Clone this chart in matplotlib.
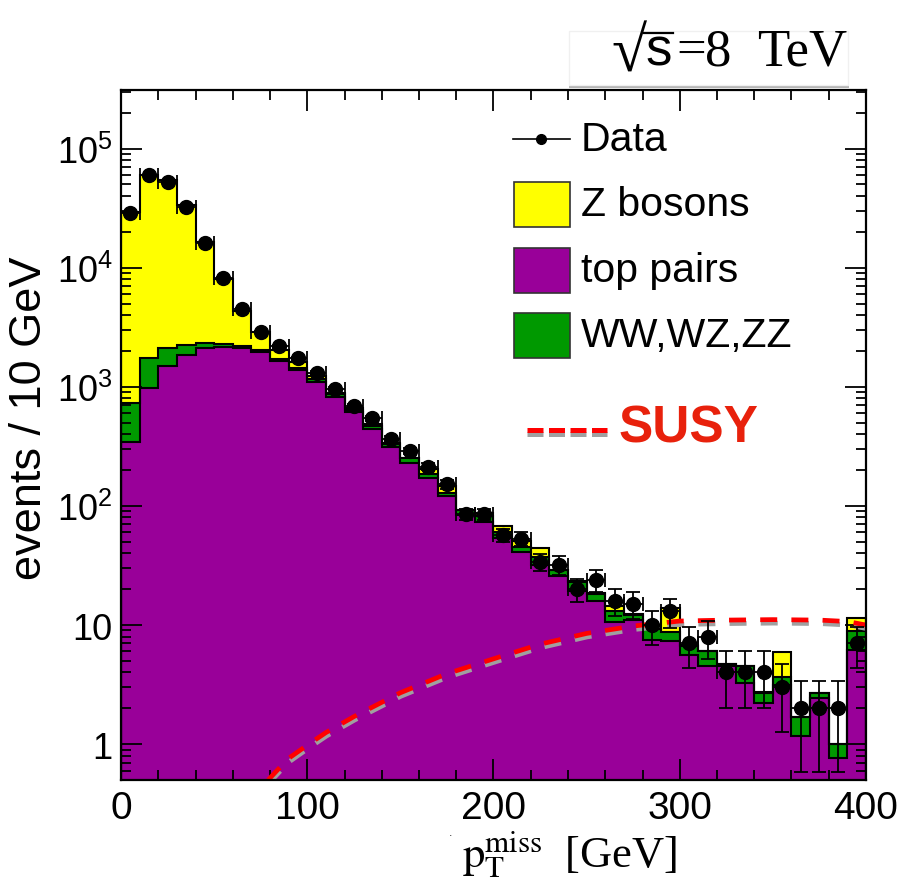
import numpy as np
import matplotlib
matplotlib.use("Agg")
import matplotlib.pyplot as plt
from matplotlib import transforms
from matplotlib.patches import Rectangle
from matplotlib.lines import Line2D
from matplotlib.ticker import FixedLocator, LogLocator, MultipleLocator, NullFormatter

plt.rcParams["font.family"] = ["Liberation Sans", "DejaVu Sans"]
plt.rcParams["mathtext.default"] = "regular"

# ---- binning: 10 GeV bins from 0 to 400 GeV
bin_edges = np.arange(0, 410, 10)

# ---- simulated backgrounds, events per bin
top_pairs = np.array([
    347, 975, 1480, 1855, 2100, 2150, 2100, 1940, 1650, 1380,
    1095, 823, 612, 446, 310, 229, 171, 120, 84, 72.6,
    53.6, 41.2, 32, 25.6, 19.4, 16.0, 10.7, 11.0, 7.5, 7.3,
    5.6, 4.56, 4.5, 3.25, 2.21, 3.14, 1.18, 2.43, 0.76, 6.21])
dibosons = np.array([
    389, 770, 640, 383, 212, 147, 110, 78, 60, 65,
    58, 40, 31, 24, 24, 21, 13, 9, 8, 9.8,
    6.2, 4.2, 4.9, 3.3, 3.6, 2.3, 2.3, 1.2, 1.75, 1.4,
    1.1, 1.44, 0.2, 1.25, 0.48, 0.5, 0.5, 0.25, 0.24, 2.75])
z_bosons = np.array([
    28364, 58555, 52580, 31162, 13988, 5703, 2140, 852, 330, 155,
    67, 32, 25, 14, 2, 2, 19, 18, 1, 5.6,
    8.2, 5.5, 7.1, 0.3, 0.2, 0.2, 1.5, 0.1, 0.05, 5.1,
    0.05, 0.05, 0.05, 0.05, 0.03, 2.33, 0.02, 0.02, 0.01, 2.44])

# ---- observed events per bin
data_counts = np.array([
    29000, 59500, 52400, 32300, 16200, 8200, 4480, 2900, 2180, 1730,
    1313, 967, 685, 543, 367, 289, 214, 152, 85, 85,
    57, 53, 34, 32, 20, 24, 16, 15, 10, 13,
    7, 8, 4, 4, 4, 3, 2, 2, 2, 7])

# ---- SUSY signal expectation
susy_x = np.array([79, 85, 90, 100, 110, 125, 150, 175, 200, 225, 250,
                   275, 300, 325, 350, 375, 390, 400])
susy_y = np.array([0.5, 0.63, 0.76, 0.98, 1.25, 1.7, 2.7, 3.9, 5.2, 6.9, 8.5,
                   9.8, 10.8, 11.0, 11.1, 11.0, 10.7, 10.0])

YELLOW = "#ffff00"
PURPLE = "#990099"
GREEN = "#009900"
RED = "#ff0000"

fig = plt.figure(figsize=(9.04, 8.87), dpi=100)
ax = fig.add_axes([121 / 904, 1 - 781 / 887, 745 / 904, 690 / 887])
ax.set_yscale("log")
ax.set_xlim(0, 400)
ax.set_ylim(0.5, 3.1e5)

# stacked histogram: draw cumulative sums from the top down
cum_purple = top_pairs
cum_green = top_pairs + dibosons
cum_total = cum_green + z_bosons
base = 1e-3
for heights, color in [(cum_total, YELLOW), (cum_green, GREEN), (cum_purple, PURPLE)]:
    ax.stairs(heights, bin_edges, baseline=base, fill=True, facecolor=color,
              edgecolor="none", zorder=1)
    ax.stairs(heights, bin_edges, baseline=base, fill=False, color="black",
              linewidth=1.5, zorder=2)

# SUSY curve with a grey drop shadow
shadow = transforms.offset_copy(ax.transData, fig=fig, x=0.5, y=-3.5, units="dots")
ax.plot(susy_x, susy_y, color="#a0a0a0", lw=3.4, dashes=(3.6, 3.0),
        transform=shadow, zorder=3)
ax.plot(susy_x, susy_y, color=RED, lw=3.4, dashes=(3.6, 3.0), zorder=4)

# data points with Poisson errors
centers = 0.5 * (bin_edges[:-1] + bin_edges[1:])
ax.errorbar(centers, data_counts, yerr=np.sqrt(data_counts), xerr=5,
            fmt="o", color="black", ms=10, elinewidth=1.3, capsize=5,
            capthick=1.3, zorder=5)

# axes styling
for s in ax.spines.values():
    s.set_linewidth(1.6)
    s.set_zorder(10)
ax.xaxis.set_major_locator(MultipleLocator(100))
ax.xaxis.set_minor_locator(MultipleLocator(20))
ax.yaxis.set_major_locator(FixedLocator([1, 10, 1e2, 1e3, 1e4, 1e5]))
ax.yaxis.set_minor_locator(LogLocator(base=10, subs=np.arange(2, 10)))
ax.yaxis.set_minor_formatter(NullFormatter())
ax.set_yticklabels(["1", "10", "$10^{2}$", "$10^{3}$", "$10^{4}$", "$10^{5}$"])
ax.tick_params(which="both", direction="in", top=True, right=True, zorder=10)
ax.tick_params(which="major", length=15, width=1.3)
ax.tick_params(which="minor", length=7.5, width=1.3)
ax.tick_params(axis="y", which="major", labelsize=26, pad=6)
ax.tick_params(axis="x", which="major", labelsize=28, pad=7)

fig.text(30 / 904, 1 - 418 / 887, "events / 10 GeV", fontsize=32.5,
         rotation=90, ha="center", va="center")

# x-axis title
fig.text(462 / 904, 1 - 868 / 887,
         r"$\mathrm{p}_{\mathrm{T}}^{\mathrm{miss}}$  [GeV]",
         fontsize=32, family=["Liberation Serif", "DejaVu Serif"],
         math_fontfamily="stix", ha="left", va="baseline")
fig.text(451 / 904, 1 - 836 / 887, ".", fontsize=9, color="#333333",
         ha="center", va="baseline")

# centre-of-mass energy box
fig.patches.append(Rectangle((569 / 904, 1 - 89 / 887), 280 / 904, 3 / 887,
                             transform=fig.transFigure, facecolor="#b4b4b4",
                             edgecolor="none", zorder=0))
fig.patches.append(Rectangle((569 / 904, 1 - 86 / 887), 279 / 904, 54 / 887,
                             transform=fig.transFigure, facecolor="white",
                             edgecolor="#f0f0f0", lw=1, zorder=0))
serif = ["Liberation Serif", "DejaVu Serif"]
fig.text(646 / 904, 1 - 72 / 887, "\u221a", fontsize=46, family=serif,
         ha="right", va="baseline")
fig.text(645 / 904, 1 - 65 / 887, "s", fontsize=38, ha="left", va="baseline")
fig.add_artist(Line2D([644 / 904, 673 / 904], [1 - 34 / 887, 1 - 34 / 887],
                      color="black", lw=1.6, transform=fig.transFigure))
fig.text(676 / 904, 1 - 65 / 887, "=", fontsize=38, family=serif,
         ha="left", va="baseline")
fig.text(705 / 904, 1 - 65 / 887, "8", fontsize=38, family=serif,
         ha="left", va="baseline")
fig.text(757 / 904, 1 - 65 / 887, "TeV", fontsize=38, family=serif,
         ha="left", va="baseline")

# legend
def ax_xy(px, py):
    return (px - 121) / 745, (781 - py) / 690

x0, y0 = ax_xy(513, 140)
x1, _ = ax_xy(570, 140)
ax.add_line(Line2D([x0, x1], [y0, y0], color="black", lw=1.2,
                   transform=ax.transAxes, zorder=11))
ax.plot([(x0 + x1) / 2], [y0], "o", color="black", ms=7,
        transform=ax.transAxes, zorder=12)
tx, _ = ax_xy(581, 0)
ax.text(tx, y0, "Data", fontsize=29.5, transform=ax.transAxes, va="center",
        ha="left", zorder=12)

for label, color, ytop, ybot in [("Z bosons", YELLOW, 183, 228),
                                 ("top pairs", PURPLE, 249, 294),
                                 ("WW,WZ,ZZ", GREEN, 314, 359)]:
    bx, by = ax_xy(514, ybot)
    ax.add_patch(Rectangle((bx, by), 56 / 745, (ybot - ytop) / 690,
                           transform=ax.transAxes, facecolor=color,
                           edgecolor="#333333", lw=1.2, zorder=11))
    _, cy = ax_xy(0, (ytop + ybot) / 2)
    ax.text(tx, cy, label, fontsize=29.5, transform=ax.transAxes, va="center",
            ha="left", zorder=12)

lx0, ly = ax_xy(527, 431)
lx1, _ = ax_xy(607, 431)
leg_shadow = transforms.offset_copy(ax.transAxes, fig=fig, x=0, y=-4, units="dots")
ax.add_line(Line2D([lx0, lx1], [ly, ly], color="#a0a0a0", lw=3.6,
                   dashes=(3.2, 1.1), transform=leg_shadow, zorder=11))
ax.add_line(Line2D([lx0, lx1], [ly, ly], color=RED, lw=3.6,
                   dashes=(3.2, 1.1), transform=ax.transAxes, zorder=12))
sx, sy = ax_xy(619, 443)
ax.text(sx, sy, "SUSY", fontsize=37, fontweight="bold", color="#e8210c",
        transform=ax.transAxes, ha="left", va="baseline", zorder=12)

fig.savefig("out.png", dpi=100)
